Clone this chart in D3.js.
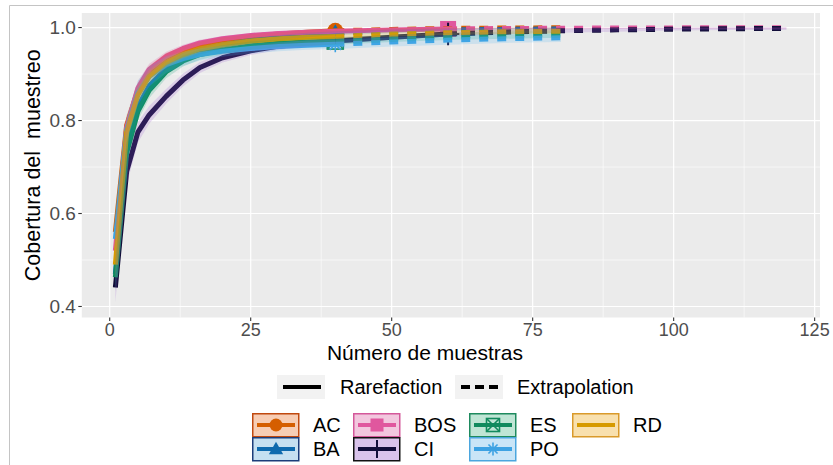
<!DOCTYPE html>
<html>
<head>
<meta charset="utf-8">
<script src="https://cdn.jsdelivr.net/npm/d3@7"></script>
<style>
  body { margin: 0; background: #fff; }
  svg { display: block; font-family: "Liberation Sans", Arial, sans-serif; }
</style>
</head>
<body>
<svg id="svg1" width="833" height="465"></svg>
<script>
// ---- data ----
var sites = ["AC", "BA", "BOS", "CI", "ES", "PO", "RD"];
var sampleSize = [40, 40, 60, 60, 40, 40, 40];
var knots = [1, 3, 5, 7, 10, 13, 16, 20, 25, 30, 35, 40, 50, 60, 70, 80, 90, 100, 110, 120];

var covAC  = [0.560, 0.790, 0.865, 0.905, 0.935, 0.952, 0.963, 0.973, 0.981, 0.986, 0.990, 0.993, 0.996, 0.998, 0.999, 0.9995];
var covBA  = [0.470, 0.740, 0.830, 0.875, 0.912, 0.935, 0.950, 0.962, 0.972, 0.979, 0.984, 0.988, 0.992, 0.995, 0.996, 0.997];
var covBOS = [0.520, 0.785, 0.870, 0.910, 0.938, 0.955, 0.967, 0.976, 0.983, 0.987, 0.990, 0.992, 0.995, 0.997, 0.998, 0.9985, 0.999, 0.9993, 0.9995, 0.9996];
var covCI  = [0.441, 0.690, 0.775, 0.812, 0.852, 0.887, 0.914, 0.935, 0.950, 0.960, 0.966, 0.971, 0.979, 0.986, 0.990, 0.993, 0.995, 0.9965, 0.9975, 0.998];
var covES  = [0.463, 0.730, 0.820, 0.865, 0.905, 0.928, 0.942, 0.952, 0.961, 0.966, 0.969, 0.971, 0.977, 0.981, 0.984, 0.986];
var covPO  = [0.545, 0.780, 0.860, 0.895, 0.920, 0.933, 0.942, 0.949, 0.955, 0.959, 0.962, 0.964, 0.969, 0.973, 0.976, 0.978];
var covRD  = [0.490, 0.775, 0.855, 0.895, 0.925, 0.942, 0.954, 0.963, 0.971, 0.976, 0.979, 0.981, 0.986, 0.989, 0.991, 0.992];

// half-width of the confidence band at each knot
var bandAC  = [0.030, 0.022, 0.016, 0.013, 0.010, 0.008, 0.007, 0.006, 0.005, 0.004, 0.004, 0.003, 0.003, 0.002, 0.002, 0.002];
var bandBA  = [0.030, 0.024, 0.018, 0.015, 0.012, 0.010, 0.008, 0.007, 0.006, 0.005, 0.005, 0.004, 0.004, 0.003, 0.003, 0.003];
var bandBOS = [0.030, 0.020, 0.015, 0.012, 0.010, 0.008, 0.007, 0.006, 0.005, 0.004, 0.004, 0.003, 0.003, 0.002, 0.002, 0.002, 0.002, 0.002, 0.002, 0.002];
var bandCI  = [0.032, 0.028, 0.022, 0.019, 0.016, 0.014, 0.012, 0.010, 0.009, 0.008, 0.007, 0.006, 0.005, 0.005, 0.004, 0.004, 0.004, 0.003, 0.003, 0.003];
var bandES  = [0.030, 0.025, 0.020, 0.017, 0.014, 0.012, 0.011, 0.010, 0.009, 0.008, 0.008, 0.008, 0.008, 0.008, 0.008, 0.008];
var bandPO  = [0.035, 0.030, 0.026, 0.022, 0.018, 0.015, 0.013, 0.012, 0.011, 0.010, 0.010, 0.010, 0.010, 0.010, 0.009, 0.009];
var bandRD  = [0.030, 0.022, 0.017, 0.014, 0.011, 0.009, 0.008, 0.007, 0.006, 0.005, 0.005, 0.005, 0.005, 0.005, 0.005, 0.005];

var xTicks = [0, 25, 50, 75, 100, 125];
var yTicks = [0.4, 0.6, 0.8, 1.0];

// ---- styles ----
var lineColor = ["#D55E00", "#0E6AAE", "#E0579E", "#120E3A", "#118A5E", "#3DA2E3", "#D69A00"];
var fillColor = ["#E8650A", "#1C86C8", "#D94C9C", "#9A5CD0", "#16A77A", "#4FB3EE", "#E8A410"];
var keyFill   = ["#F7CDB4", "#C5E0F1", "#F2C7DE", "#D9C3EB", "#BFE5D5", "#C9E5F7", "#F8E0AE"];
var keyBorder = ["#C0490F", "#1C3D7A", "#D4589A", "#111111", "#1E8A5E", "#4BA6DE", "#D99A2B"];
var shapes    = ["circle", "triangle", "square", "plus", "squarecross", "asterisk", "none"];

var covs  = [covAC, covBA, covBOS, covCI, covES, covPO, covRD];
var bands = [bandAC, bandBA, bandBOS, bandCI, bandES, bandPO, bandRD];

var series = sites.map(function (s, i) {
  var pts = covs[i].map(function (v, j) {
    return { x: knots[j], y: v, lo: v - bands[i][j], hi: Math.min(1, v + bands[i][j]) };
  });
  var n = sampleSize[i];
  return {
    site: s, n: n, i: i,
    rare: pts.filter(function (d) { return d.x <= n; }),
    extra: pts.filter(function (d) { return d.x >= n; }),
    all: pts,
    obs: pts.filter(function (d) { return d.x === n; })[0]
  };
});

var svg = d3.select('svg');

// screenshot frame
svg.append('path').attr('d', 'M9.5,465 V5.5 H833').attr('fill', 'none')
  .attr('stroke', '#c4c4c4').attr('stroke-width', 1);

var pLeft = 81.8, pRight = 820, pTop = 13, pBottom = 317.5;

var x = d3.scaleLinear().domain([-4.95, 125.95]).range([pLeft, pRight]);
var y = d3.scaleLinear().domain([0.3763, 1.0313]).range([pBottom, pTop]);

svg.append('rect').attr('x', pLeft).attr('y', pTop)
  .attr('width', pRight - pLeft).attr('height', pBottom - pTop).attr('fill', '#EBEBEB');

svg.append('defs').append('clipPath').attr('id', 'clip')
  .append('rect').attr('x', pLeft).attr('y', pTop)
  .attr('width', pRight - pLeft).attr('height', pBottom - pTop);

var grid = svg.append('g');
// minor grid
[12.5, 37.5, 62.5, 87.5, 112.5].forEach(function (v) {
  grid.append('line').attr('x1', x(v)).attr('x2', x(v)).attr('y1', pTop).attr('y2', pBottom)
    .attr('stroke', '#fff').attr('stroke-width', 0.6);
});
[0.5, 0.7, 0.9].forEach(function (v) {
  grid.append('line').attr('y1', y(v)).attr('y2', y(v)).attr('x1', pLeft).attr('x2', pRight)
    .attr('stroke', '#fff').attr('stroke-width', 0.6);
});
// major grid
xTicks.forEach(function (v) {
  grid.append('line').attr('x1', x(v)).attr('x2', x(v)).attr('y1', pTop).attr('y2', pBottom)
    .attr('stroke', '#fff').attr('stroke-width', 1.2);
});
yTicks.forEach(function (v) {
  grid.append('line').attr('y1', y(v)).attr('y2', y(v)).attr('x1', pLeft).attr('x2', pRight)
    .attr('stroke', '#fff').attr('stroke-width', 1.2);
});

var plot = svg.append('g').attr('clip-path', 'url(#clip)');

// draw a marker shape centred at 0,0
function drawShape(g, shape, col, sz) {
  var h = sz / 2;
  if (shape === 'circle') {
    g.append('circle').attr('r', h).attr('fill', col);
  } else if (shape === 'triangle') {
    g.append('path').attr('d', 'M0,' + (-h * 1.1) + 'L' + (h * 1.1) + ',' + (h * 0.8) + 'L' + (-h * 1.1) + ',' + (h * 0.8) + 'Z').attr('fill', col);
  } else if (shape === 'square') {
    g.append('rect').attr('x', -h).attr('y', -h).attr('width', sz).attr('height', sz).attr('fill', col);
  } else if (shape === 'plus') {
    g.append('path').attr('d', 'M' + (-h * 1.4) + ',0H' + (h * 1.4) + 'M0,' + (-h * 1.4) + 'V' + (h * 1.4))
      .attr('stroke', col).attr('stroke-width', 2).attr('fill', 'none');
  } else if (shape === 'squarecross') {
    g.append('rect').attr('x', -h).attr('y', -h).attr('width', sz).attr('height', sz)
      .attr('stroke', col).attr('stroke-width', 1.6).attr('fill', 'none');
    g.append('path').attr('d', 'M' + (-h) + ',' + (-h) + 'L' + h + ',' + h + 'M' + h + ',' + (-h) + 'L' + (-h) + ',' + h)
      .attr('stroke', col).attr('stroke-width', 1.6);
  } else if (shape === 'asterisk') {
    g.append('path').attr('d', 'M' + (-h) + ',0H' + h + 'M0,' + (-h) + 'V' + h +
      'M' + (-h * 0.7) + ',' + (-h * 0.7) + 'L' + (h * 0.7) + ',' + (h * 0.7) +
      'M' + (h * 0.7) + ',' + (-h * 0.7) + 'L' + (-h * 0.7) + ',' + (h * 0.7))
      .attr('stroke', col).attr('stroke-width', 1.6).attr('fill', 'none');
  }
}

// observed points first (ggiNEXT draws them under lines and ribbons)
series.forEach(function (s) {
  if (shapes[s.i] === 'none') return;
  var g = plot.append('g').attr('transform', 'translate(' + x(s.obs.x) + ',' + y(s.obs.y) + ')');
  drawShape(g, shapes[s.i], lineColor[s.i], 16);
});

var line = d3.line().x(function (d) { return x(d.x); }).y(function (d) { return y(d.y); });
var area = d3.area().x(function (d) { return x(d.x); })
  .y0(function (d) { return y(d.lo); }).y1(function (d) { return y(d.hi); });

// lines
series.forEach(function (s) {
  plot.append('path').attr('d', line(s.rare)).attr('fill', 'none')
    .attr('stroke', lineColor[s.i]).attr('stroke-width', 5).attr('stroke-linejoin', 'round');
  plot.append('path').attr('d', line(s.extra)).attr('fill', 'none')
    .attr('stroke', lineColor[s.i]).attr('stroke-width', 5).attr('stroke-dasharray', '9,9');
});

// confidence ribbons on top
series.forEach(function (s) {
  plot.append('path').attr('d', area(s.all)).attr('fill', fillColor[s.i]).attr('fill-opacity', 0.2);
});

// axes
var axisG = svg.append('g');
xTicks.forEach(function (v) {
  axisG.append('line').attr('x1', x(v)).attr('x2', x(v)).attr('y1', pBottom).attr('y2', pBottom + 3.5)
    .attr('stroke', '#333').attr('stroke-width', 1.1);
  axisG.append('text').attr('x', x(v)).attr('y', 336).attr('text-anchor', 'middle')
    .attr('font-size', 18).attr('fill', '#4D4D4D').text(v);
});
yTicks.forEach(function (v) {
  axisG.append('line').attr('x1', pLeft - 3.5).attr('x2', pLeft).attr('y1', y(v)).attr('y2', y(v))
    .attr('stroke', '#333').attr('stroke-width', 1.1);
  axisG.append('text').attr('x', pLeft - 6).attr('y', y(v)).attr('dy', '0.36em').attr('text-anchor', 'end')
    .attr('font-size', 19).attr('fill', '#4D4D4D').text(d3.format('.1f')(v));
});

svg.append('text').attr('x', 425).attr('y', 360).attr('text-anchor', 'middle')
  .attr('font-size', 21).attr('fill', '#000').text('Número de muestras');
svg.append('text').attr('transform', 'translate(40,' + ((pTop + pBottom) / 2) + ') rotate(-90)')
  .attr('text-anchor', 'middle').attr('font-size', 21.5).attr('fill', '#000')
  .style('white-space', 'pre').text('Cobertura del  muestreo');

// legend: line type
var lt = svg.append('g');
[{ lab: 'Rarefaction', kx: 277, tx: 340, dash: null },
 { lab: 'Extrapolation', kx: 455, tx: 517, dash: '9,5' }].forEach(function (k) {
  lt.append('rect').attr('x', k.kx).attr('y', 375).attr('width', 48).attr('height', 24).attr('fill', '#F2F2F2');
  lt.append('line').attr('x1', k.kx + 6).attr('x2', k.kx + 44).attr('y1', 387).attr('y2', 387)
    .attr('stroke', '#000').attr('stroke-width', 4).attr('stroke-dasharray', k.dash);
  lt.append('text').attr('x', k.tx).attr('y', 387).attr('dy', '0.36em')
    .attr('font-size', 20).attr('fill', '#000').text(k.lab);
});

// legend: sites (two rows, filled by column)
var colX = [252, 353, 469, 572];
var textX = [313, 414, 530, 633];
var rowY = [413, 437];
var lg = svg.append('g');
series.forEach(function (s) {
  var c = Math.floor(s.i / 2), r = s.i % 2;
  var kx = colX[c], ky = rowY[r];
  lg.append('rect').attr('x', kx + 0.75).attr('y', ky + 0.75).attr('width', 46).attr('height', 23)
    .attr('fill', keyFill[s.i]).attr('stroke', keyBorder[s.i]).attr('stroke-width', 1.5);
  lg.append('line').attr('x1', kx + 5).attr('x2', kx + 43).attr('y1', ky + 12).attr('y2', ky + 12)
    .attr('stroke', lineColor[s.i]).attr('stroke-width', 4);
  var g = lg.append('g').attr('transform', 'translate(' + (kx + 24) + ',' + (ky + 12) + ')');
  drawShape(g, shapes[s.i], lineColor[s.i], 13);
  lg.append('text').attr('x', textX[c]).attr('y', ky + 12).attr('dy', '0.36em')
    .attr('font-size', 20).attr('fill', '#000').text(s.site);
});
</script>
</body>
</html>
